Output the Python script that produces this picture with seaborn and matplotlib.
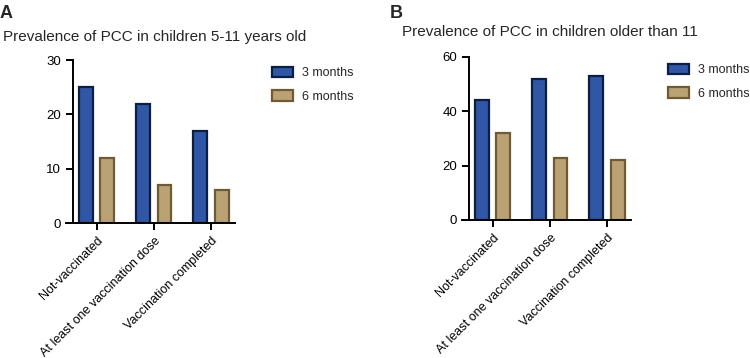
import numpy as np
import pandas as pd
import seaborn as sns
import matplotlib.pyplot as plt
from matplotlib.patches import Patch

categories = ['Not-vaccinated', 'At least one vaccination dose', 'Vaccination completed']
periods = ['3 months', '6 months']
young_3m = [25, 22, 17]
young_6m = [12, 7, 6]
older_3m = [44, 52, 53]
older_6m = [32, 23, 22]

fills = ['#2F57A5', '#BAA275']
edges = ['#0E1D42', '#6E5A35']

sns.set_style('ticks')
plt.rcParams['font.family'] = ['Liberation Sans', 'DejaVu Sans']

def make_df(v3, v6):
    return pd.DataFrame({
        'group': categories * 2,
        'period': [periods[0]] * 3 + [periods[1]] * 3,
        'value': v3 + v6,
    })

fig = plt.figure(figsize=(7.5, 3.58), dpi=100)
axA = fig.add_axes([0.088, 0.377, 0.2253, 0.455])
axB = fig.add_axes([0.616, 0.3855, 0.2253, 0.4553])

def draw(ax, df, ymax, step):
    sns.barplot(data=df, x='group', y='value', hue='period', hue_order=periods,
                palette=fills, saturation=1, width=0.74, gap=0.34, ax=ax, legend=False,
                linewidth=1.6)
    for i, cont in enumerate(ax.containers):
        for bar in cont:
            bar.set_edgecolor(edges[i])
    ax.set_xlim(-0.54, 2.42)
    ax.set_ylim(0, ymax)
    ax.set_yticks(np.arange(0, ymax + 1, step))
    ax.spines['left'].set_position(('data', -0.42))
    ax.spines['top'].set_visible(False)
    ax.spines['right'].set_visible(False)
    for s in ['left', 'bottom']:
        ax.spines[s].set_linewidth(1.4)
        ax.spines[s].set_color('black')
    ax.tick_params(width=1.4, length=5, labelsize=9.5, colors='black')
    ax.set_xticks(range(3))
    ax.set_xticklabels(categories, rotation=45, ha='right', rotation_mode='anchor', fontsize=9)
    ax.set_xlabel('')
    ax.set_ylabel('')
    handles = [Patch(facecolor=fills[i], edgecolor=edges[i], linewidth=1.6, label=periods[i])
               for i in range(2)]
    ax.legend(handles=handles, loc='upper left', bbox_to_anchor=(1.22, 0.96), frameon=False,
              borderaxespad=0, borderpad=0,
              fontsize=9, handlelength=1.7, handleheight=0.95, handletextpad=0.7, labelspacing=0.85)

draw(axA, make_df(young_3m, young_6m), 30, 10)
draw(axB, make_df(older_3m, older_6m), 60, 20)

fig.text(0.0, 0.985, 'A', fontsize=13, fontweight='bold', va='top')
fig.text(0.004, 0.915, 'Prevalence of PCC in children 5-11 years old', fontsize=11, va='top')
fig.text(0.52, 0.985, 'B', fontsize=13, fontweight='bold', va='top')
fig.text(0.536, 0.93, 'Prevalence of PCC in children older than 11', fontsize=11, va='top')

fig.savefig('out.png', dpi=100)
